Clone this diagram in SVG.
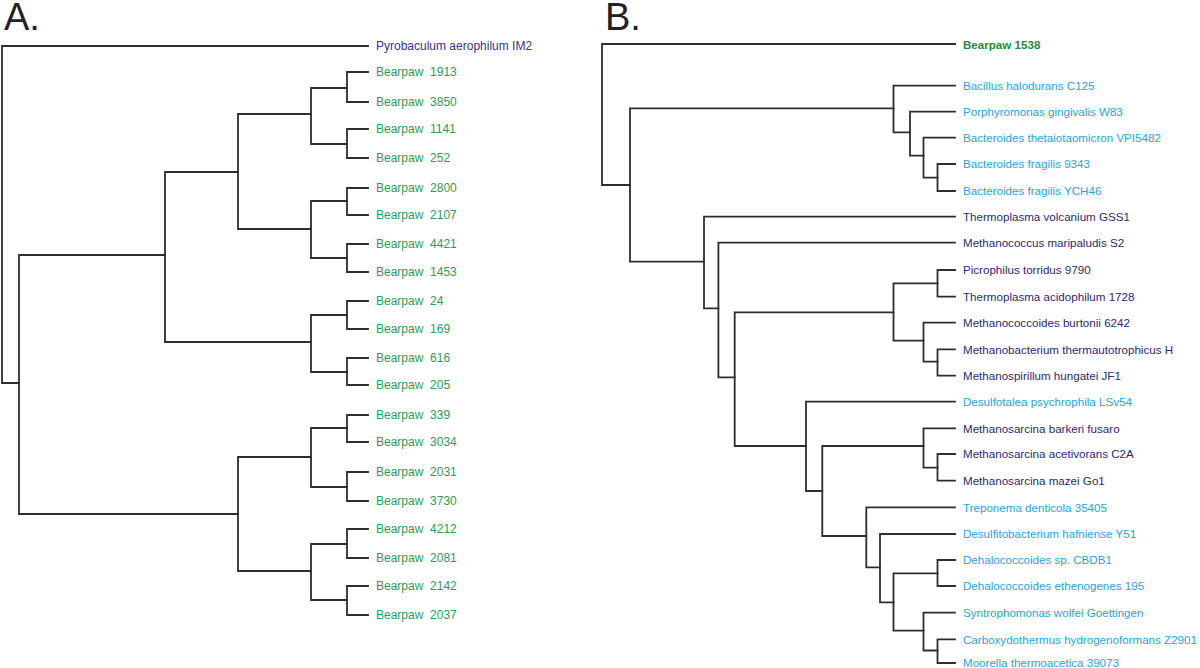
<svg xmlns="http://www.w3.org/2000/svg" width="1200" height="668" viewBox="0 0 1200 668">
<style>
.br{fill:none;stroke:#2e2e2e;stroke-width:1.8;stroke-linecap:square}
text{font-family:"Liberation Sans",Arial,sans-serif;font-size:12px;white-space:pre}
.b text{font-size:11.6px}
.g{fill:#2f9a58}
.gb{fill:#1f8a3e;font-weight:bold}
.lb{fill:#2aa2dc}
.db{fill:#2d2872}
.pb{fill:#3a2f8e}
.hd{font-size:38px;fill:#222}
</style>
<rect width="1200" height="668" fill="#fff"/>
<text class="hd" x="4" y="29.5">A.</text>
<text class="hd" x="605" y="29.5">B.</text>
<g id="connectors">
<path class="br" d="M368 46H2V383H19"/>
<path class="br" d="M165 255H19V514H238"/>
<path class="br" d="M238 172H165V342H311"/>
<path class="br" d="M311 114H238V229H311"/>
<path class="br" d="M347 88H311V144H347"/>
<path class="br" d="M368 72H347V102H368"/>
<path class="br" d="M368 129H347V158H368"/>
<path class="br" d="M347 201H311V258H347"/>
<path class="br" d="M368 188H347V215H368"/>
<path class="br" d="M368 244H347V272H368"/>
<path class="br" d="M347 315H311V372H347"/>
<path class="br" d="M368 301H347V329H368"/>
<path class="br" d="M368 358H347V385H368"/>
<path class="br" d="M311 457H238V571H311"/>
<path class="br" d="M347 428H311V487H347"/>
<path class="br" d="M368 415H347V442H368"/>
<path class="br" d="M368 472H347V501H368"/>
<path class="br" d="M347 544H311V600H347"/>
<path class="br" d="M368 529H347V558H368"/>
<path class="br" d="M368 586H347V615H368"/>

<path class="br" d="M955 44H602V185H630"/>
<path class="br" d="M893.5 108.3H630V261.7H704"/>
<path class="br" d="M955 85.7H893.5V132.3H910"/>
<path class="br" d="M955 111.7H910V155.7H923.5"/>
<path class="br" d="M955 137.7H923.5V177.7H937.5"/>
<path class="br" d="M955 164H937.5V191H955"/>
<path class="br" d="M955 216.7H704V308.3H718.4"/>
<path class="br" d="M955 242.7H718.4V377.3H734.7"/>
<path class="br" d="M893.5 312.3H734.7V446H806"/>
<path class="br" d="M937.5 283.3H893.5V340.7H923.5"/>
<path class="br" d="M955 270H937.5V296.7H955"/>
<path class="br" d="M955 322.7H923.5V361.7H937.5"/>
<path class="br" d="M955 349.3H937.5V375.7H955"/>
<path class="br" d="M955 401.7H806V491H822.3"/>
<path class="br" d="M923.5 446H822.3V536H866.3"/>
<path class="br" d="M955 428.3H923.5V467.7H937.5"/>
<path class="br" d="M955 454H937.5V480.7H955"/>
<path class="br" d="M955 507.3H866.3V567.3H880"/>
<path class="br" d="M955 534H880V602.3H893.5"/>
<path class="br" d="M937.5 573.3H893.5V630.7H923.5"/>
<path class="br" d="M955 560H937.5V586H955"/>
<path class="br" d="M955 612.7H923.5V650.5H937.5"/>
<path class="br" d="M955 639.3H937.5V663H955"/>
</g>
<g id="A-Pyrobaculum"><text class="pb" x="376" y="50.3">Pyrobaculum aerophilum IM2</text></g>
<g id="A-1913"><text class="g" x="376" y="76.3" xml:space="preserve">Bearpaw  1913</text></g>
<g id="A-3850"><text class="g" x="376" y="106.3" xml:space="preserve">Bearpaw  3850</text></g>
<g id="A-1141"><text class="g" x="376" y="133.3" xml:space="preserve">Bearpaw  1141</text></g>
<g id="A-252"><text class="g" x="376" y="162.3" xml:space="preserve">Bearpaw  252</text></g>
<g id="A-2800"><text class="g" x="376" y="192.3" xml:space="preserve">Bearpaw  2800</text></g>
<g id="A-2107"><text class="g" x="376" y="219.3" xml:space="preserve">Bearpaw  2107</text></g>
<g id="A-4421"><text class="g" x="376" y="248.3" xml:space="preserve">Bearpaw  4421</text></g>
<g id="A-1453"><text class="g" x="376" y="276.3" xml:space="preserve">Bearpaw  1453</text></g>
<g id="A-24"><text class="g" x="376" y="305.3" xml:space="preserve">Bearpaw  24</text></g>
<g id="A-169"><text class="g" x="376" y="333.3" xml:space="preserve">Bearpaw  169</text></g>
<g id="A-616"><text class="g" x="376" y="362.3" xml:space="preserve">Bearpaw  616</text></g>
<g id="A-205"><text class="g" x="376" y="389.3" xml:space="preserve">Bearpaw  205</text></g>
<g id="A-339"><text class="g" x="376" y="419.3" xml:space="preserve">Bearpaw  339</text></g>
<g id="A-3034"><text class="g" x="376" y="446.3" xml:space="preserve">Bearpaw  3034</text></g>
<g id="A-2031"><text class="g" x="376" y="476.3" xml:space="preserve">Bearpaw  2031</text></g>
<g id="A-3730"><text class="g" x="376" y="505.3" xml:space="preserve">Bearpaw  3730</text></g>
<g id="A-4212"><text class="g" x="376" y="533.3" xml:space="preserve">Bearpaw  4212</text></g>
<g id="A-2081"><text class="g" x="376" y="562.3" xml:space="preserve">Bearpaw  2081</text></g>
<g id="A-2142"><text class="g" x="376" y="590.3" xml:space="preserve">Bearpaw  2142</text></g>
<g id="A-2037"><text class="g" x="376" y="619.3" xml:space="preserve">Bearpaw  2037</text></g>

<g class="b">
<g id="B-1538"><text class="gb" x="963" y="48.5">Bearpaw 1538</text></g>
<g id="B-bacillus"><text class="lb" x="963" y="90">Bacillus halodurans C125</text></g>
<g id="B-porphyromonas"><text class="lb" x="963" y="116">Porphyromonas gingivalis W83</text></g>
<g id="B-btheta"><text class="lb" x="963" y="142">Bacteroides thetaiotaomicron VPI5482</text></g>
<g id="B-bfrag9343"><text class="lb" x="963" y="168.3">Bacteroides fragilis 9343</text></g>
<g id="B-bfragYCH46"><text class="lb" x="963" y="195.3">Bacteroides fragilis YCH46</text></g>
<g id="B-tvolcanium"><text class="db" x="963" y="221">Thermoplasma volcanium GSS1</text></g>
<g id="B-mmaripaludis"><text class="db" x="963" y="247">Methanococcus maripaludis S2</text></g>
<g id="B-picrophilus"><text class="db" x="963" y="274.3">Picrophilus torridus 9790</text></g>
<g id="B-tacidophilum"><text class="db" x="963" y="301">Thermoplasma acidophilum 1728</text></g>
<g id="B-mburtonii"><text class="db" x="963" y="327">Methanococcoides burtonii 6242</text></g>
<g id="B-mthermauto"><text class="db" x="963" y="353.6">Methanobacterium thermautotrophicus H</text></g>
<g id="B-mhungatei"><text class="db" x="963" y="380">Methanospirillum hungatei JF1</text></g>
<g id="B-desulfotalea"><text class="lb" x="963" y="406">Desulfotalea psychrophila LSv54</text></g>
<g id="B-mbarkeri"><text class="db" x="963" y="432.6">Methanosarcina barkeri fusaro</text></g>
<g id="B-macetivorans"><text class="db" x="963" y="458.3">Methanosarcina acetivorans C2A</text></g>
<g id="B-mmazei"><text class="db" x="963" y="485">Methanosarcina mazei Go1</text></g>
<g id="B-treponema"><text class="lb" x="963" y="511.6">Treponema denticola 35405</text></g>
<g id="B-desulfito"><text class="lb" x="963" y="538.3">Desulfitobacterium hafniense Y51</text></g>
<g id="B-dehaloCBDB1"><text class="lb" x="963" y="564.3">Dehalococcoides sp. CBDB1</text></g>
<g id="B-dehaloeth"><text class="lb" x="963" y="590.3">Dehalococcoides ethenogenes 195</text></g>
<g id="B-syntrophomonas"><text class="lb" x="963" y="617">Syntrophomonas wolfei Goettingen</text></g>
<g id="B-carboxydothermus"><text class="lb" x="963" y="643.6">Carboxydothermus hydrogenoformans Z2901</text></g>
<g id="B-moorella"><text class="lb" x="963" y="667.3">Moorella thermoacetica 39073</text></g>
</g>
</svg>
